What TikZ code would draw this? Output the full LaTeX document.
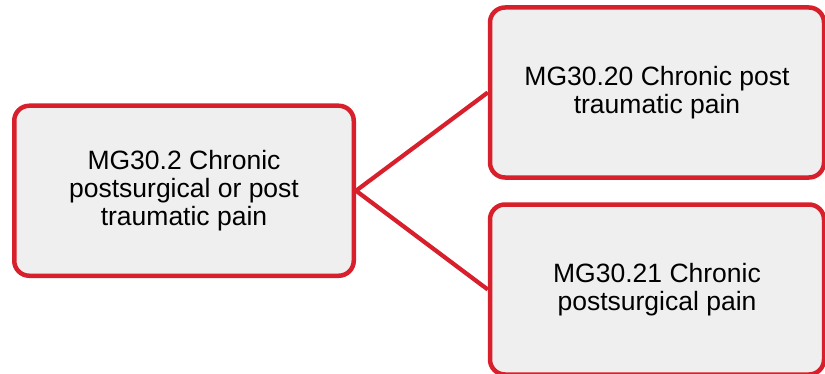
\documentclass[tikz,border=0pt]{standalone}
\usepackage{fontspec}
\setmainfont{Liberation Sans}
\definecolor{boxred}{HTML}{D7202B}
\definecolor{boxfill}{HTML}{EFEFEF}
\begin{document}
\begin{tikzpicture}[x=1pt,y=1pt,
  codebox/.style={draw=boxred, fill=boxfill, line width=4.5pt, rounded corners=15pt,
    minimum width=#1, minimum height=170pt, align=center, inner sep=0pt,
    font=\fontsize{26.5}{28}\selectfont},
  link/.style={draw=boxred, line width=4.2pt}]
\useasboundingbox (0,0) rectangle (825,373);
\clip (0,0) rectangle (825,373);
\node[codebox=339.5pt] (L) at (184,182.25) {MG30.2 Chronic\\postsurgical or post\\traumatic pain};
\node[codebox=334pt] (T) at (657,280.5) {MG30.20 Chronic post\\traumatic pain};
\node[codebox=334pt] (B) at (657,83.5) {MG30.21 Chronic\\postsurgical pain};
\draw[link] (L.east) -- (T.west);
\draw[link] (L.east) -- (B.west);
\end{tikzpicture}
\end{document}
